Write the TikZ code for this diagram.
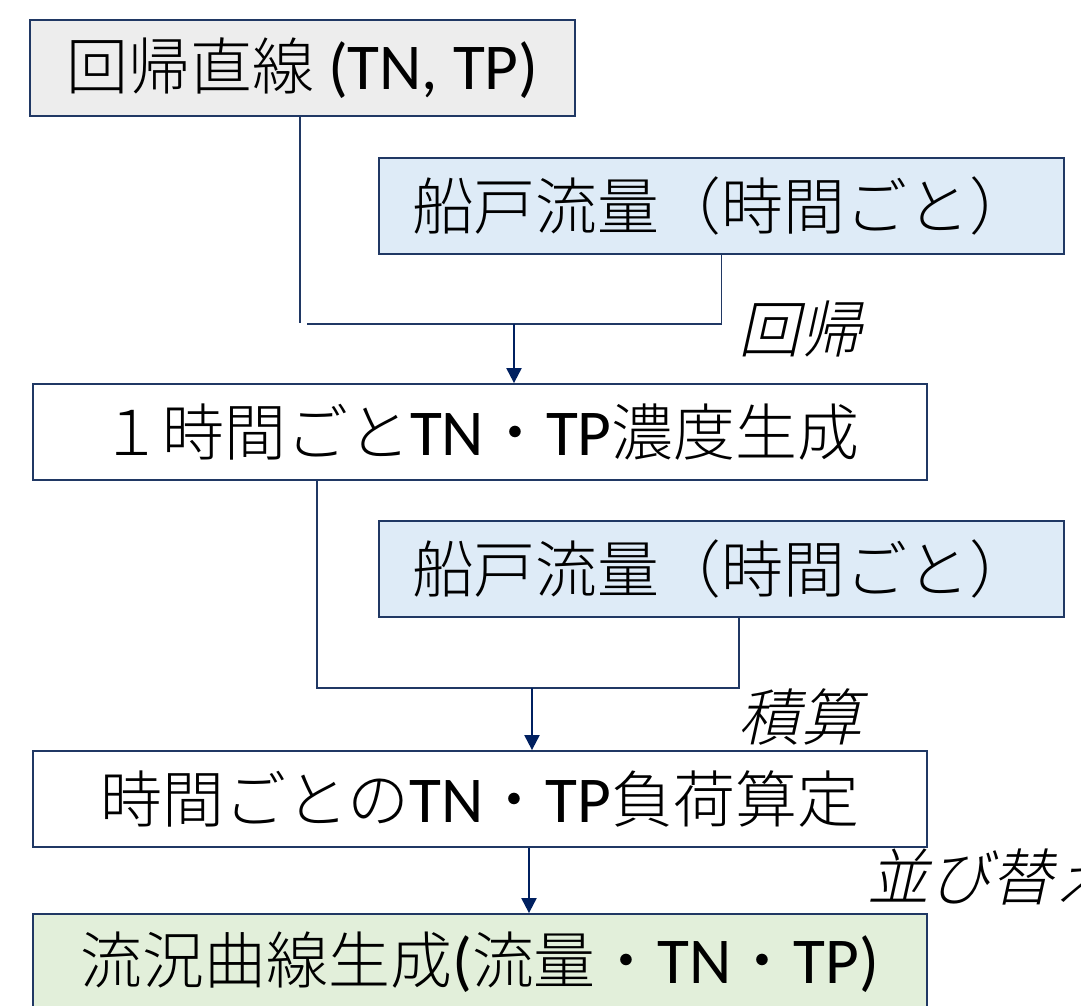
\documentclass[tikz,border=0pt]{standalone}
\usepackage{fontspec}
\setmainfont{Carlito}
\newfontfamily\cjk{Noto Sans CJK JP Light}
\newfontfamily\cjkit{Noto Sans CJK JP Light}[FakeSlant=0.22]
\newcommand\lt[1]{{\fontsize{18.6}{20}\selectfont #1}}
\usetikzlibrary{arrows.meta}
\definecolor{navy}{RGB}{32,56,100}
\definecolor{arrnavy}{RGB}{0,32,96}
\definecolor{grayfill}{RGB}{237,237,237}
\definecolor{bluefill}{RGB}{222,235,247}
\definecolor{greenfill}{RGB}{226,239,218}
\tikzset{
  box/.style={draw=navy, line width=0.5pt, inner sep=0pt, minimum height=0.96cm, font=\fontsize{17.6}{20}\selectfont},
  conn/.style={draw=navy, line width=0.4pt},
  arr/.style={draw=arrnavy, line width=0.6pt, -{Triangle[width=0.15cm,length=0.15cm]}},
  lbl/.style={font=\fontsize{17.6}{20}\selectfont\cjkit, inner sep=0pt}
}
\begin{document}
\begin{tikzpicture}[x=0.01cm,y=-0.01cm]
\useasboundingbox (0,0) rectangle (1081,1005);
\clip (0,0) rectangle (1081,1005);
\node[box, fill=grayfill, minimum width=5.45cm] (b1) at (302.5,68) {{\cjk 回帰直線} \lt{(TN, TP)}};
\node[box, fill=bluefill, minimum width=6.85cm] (b2) at (721.5,206) {\cjk 船戸流量（時間ごと）};
\node[box, fill=white, minimum width=8.94cm] (b3) at (480,432) {{\cjk １時間ごと}\lt{TN}{\cjk ・}\lt{TP}{\cjk 濃度生成}};
\node[box, fill=bluefill, minimum width=6.85cm] (b4) at (721.5,569) {\cjk 船戸流量（時間ごと）};
\node[box, fill=white, minimum width=8.94cm] (b5) at (480,799) {{\cjk 時間ごとの}\lt{TN}{\cjk ・}\lt{TP}{\cjk 負荷算定}};
\node[box, fill=greenfill, minimum width=8.94cm] (b6) at (480,962) {{\cjk 流況曲線生成}\lt{(}{\cjk 流量・}\lt{TN}{\cjk ・}\lt{TP)}};

\node[lbl] (l1) at (800,329) {回帰};
\node[lbl] (l2) at (800,717) {積算};
\node[lbl, anchor=west] (l3) at (867,877) {並び替え};

% first merge
\coordinate (v1) at (300,323);
\coordinate (h1) at (307,324);
\coordinate (m1) at (514,324);
\draw[conn] (b1.south -| v1) -- (v1);
\draw[conn] (b2.south) |- (h1);
\draw[arr] (m1) -- (m1 |- b3.north);

% second merge
\coordinate (v2) at (317,688);
\coordinate (r2) at (739,688);
\coordinate (m2) at (532,688);
\draw[conn] (b3.south -| v2) |- (r2) -- (r2 |- b4.south);
\draw[arr] (m2) -- (m2 |- b5.north);

% third
\coordinate (m3) at (529,850);
\draw[arr] (b5.south -| m3) -- (m3 |- b6.north);
\end{tikzpicture}
\end{document}
